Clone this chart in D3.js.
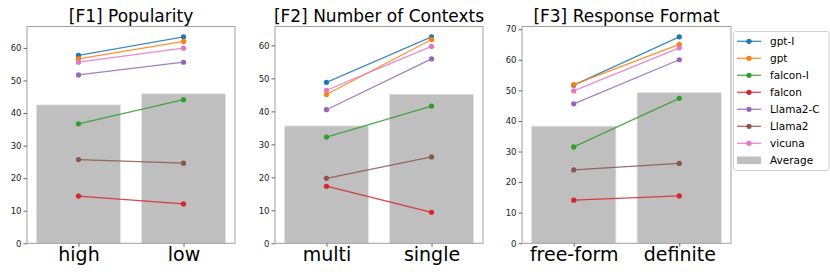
<!DOCTYPE html>
<html>
<head>
<meta charset="utf-8">
<script src="https://cdn.jsdelivr.net/npm/d3@7"></script>
<style>
  body { margin: 0; background: #fff; }
  svg { font-family: "DejaVu Sans", sans-serif; }
</style>
</head>
<body>
<div id="chart"></div>
<script>
// panel titles and category labels
var titles = ["[F1] Popularity", "[F2] Number of Contexts", "[F3] Response Format"];
var categories = [["high", "low"], ["multi", "single"], ["free-form", "definite"]];

var models = ["gpt-I", "gpt", "falcon-I", "falcon", "Llama2-C", "Llama2", "vicuna"];
var colors = ["#1f77b4", "#ff7f0e", "#2ca02c", "#d62728", "#9467bd", "#8c564b", "#e377c2"];

// per model values, [first category, second category]
var popularity = [[57.7, 63.4], [56.6, 62.0], [36.7, 44.1], [14.5, 12.1], [51.7, 55.6], [25.7, 24.6], [55.6, 59.9]];
var contexts = [[48.8, 62.6], [45.1, 61.8], [32.2, 41.6], [17.3, 9.4], [40.5, 55.9], [19.7, 26.2], [46.4, 59.7]];
var format = [[51.7, 67.5], [51.9, 65.0], [31.5, 47.4], [14.1, 15.5], [45.6, 60.0], [24.0, 26.1], [49.8, 63.9]];

var averages = [[42.5, 45.9], [35.6, 45.2], [38.3, 49.3]];
var panelData = [popularity, contexts, format];

var W = 830, H = 277;
var svg = d3.select("#chart").append("svg").attr("width", W).attr("height", H);

var frames = [[27, 235], [275, 483], [522, 731]];
var plotTop = 26.5, plotBottom = 243.3;

panelData.forEach(function (vals, p) {
    var left = frames[p][0], right = frames[p][1];
    var ymax = d3.max(vals, function (d) { return d3.max(d); }) * 1.05;
    var x = d3.scaleLinear().domain([-0.49, 1.49]).range([left, right]);
    var y = d3.scaleLinear().domain([0, ymax]).range([plotBottom, plotTop]);

    var g = svg.append("g");

    // average bars
    g.selectAll(".bar")
        .data(averages[p])
        .enter().append("rect")
        .attr("x", function (d, i) { return x(i - 0.4); })
        .attr("width", x(0.4) - x(-0.4))
        .attr("y", function (d) { return y(d); })
        .attr("height", function (d) { return y(0) - y(d); })
        .attr("fill", "#bfbfbf")
        .attr("stroke", "#e6e6e6")
        .attr("stroke-width", 0.8);

    // model lines
    vals.forEach(function (v, m) {
        g.append("path")
            .datum(v)
            .attr("fill", "none")
            .attr("stroke", colors[m])
            .attr("stroke-opacity", 0.85)
            .attr("stroke-width", 1.3)
            .attr("d", d3.line().x(function (d, i) { return x(i); }).y(function (d) { return y(d); }));
        g.selectAll(null)
            .data(v)
            .enter().append("circle")
            .attr("cx", function (d, i) { return x(i); })
            .attr("cy", function (d) { return y(d); })
            .attr("r", 2.6)
            .attr("fill", colors[m]);
    });

    // frame
    g.append("rect")
        .attr("x", left).attr("y", plotTop)
        .attr("width", right - left).attr("height", plotBottom - plotTop)
        .attr("fill", "none").attr("stroke", "#a0a0a0").attr("stroke-width", 1);

    // y axis
    var ya = g.append("g")
        .attr("transform", "translate(" + left + ",0)")
        .call(d3.axisLeft(y).tickValues(d3.range(0, ymax, 10)).tickSize(3.5).tickPadding(2).tickFormat(d3.format("d")));
    ya.select(".domain").remove();
    ya.selectAll("line").attr("stroke", "#666");
    ya.selectAll("text").attr("font-size", "8.5px").attr("fill", "#222").attr("font-family", "DejaVu Sans");

    // x axis
    var xa = g.append("g")
        .attr("transform", "translate(0," + plotBottom + ")")
        .call(d3.axisBottom(x).tickValues([0, 1]).tickSize(3.5).tickPadding(1)
            .tickFormat(function (d) { return categories[p][d]; }));
    xa.select(".domain").remove();
    xa.selectAll("line").attr("stroke", "#666");
    xa.selectAll("text").attr("font-size", "19px").attr("fill", "#000").attr("font-family", "DejaVu Sans");

    g.append("text")
        .attr("x", (left + right) / 2)
        .attr("y", 21.7)
        .attr("text-anchor", "middle")
        .attr("font-size", "17px")
        .text(titles[p]);
});

// legend
var lg = svg.append("g");
lg.append("rect")
    .attr("x", 733.5).attr("y", 31.5).attr("width", 95.5).attr("height", 139)
    .attr("rx", 2).attr("fill", "#fff").attr("stroke", "#d0d0d0");

var items = models.concat(["Average"]);
items.forEach(function (name, i) {
    var cy = 41.3 + i * 17;
    if (i < models.length) {
        lg.append("line").attr("x1", 737).attr("x2", 761).attr("y1", cy).attr("y2", cy)
            .attr("stroke", colors[i]).attr("stroke-opacity", 0.85).attr("stroke-width", 1.3);
        lg.append("circle").attr("cx", 749).attr("cy", cy).attr("r", 2.6).attr("fill", colors[i]);
    } else {
        lg.append("rect").attr("x", 737).attr("y", cy - 3.8).attr("width", 24).attr("height", 7.6)
            .attr("fill", "#bfbfbf");
    }
    lg.append("text").attr("x", 770).attr("y", cy).attr("dy", "0.35em")
        .attr("font-size", "10.5px").text(name);
});
</script>
</body>
</html>
